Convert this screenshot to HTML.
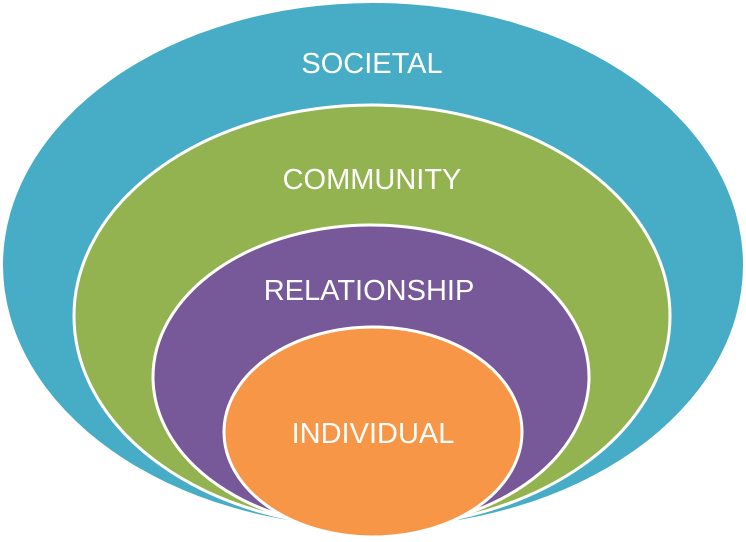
<!DOCTYPE html>
<html><head><style>body{margin:0;background:#fff}svg{display:block}text{font-family:"Liberation Sans",sans-serif;fill:#fff;font-size:29px;text-anchor:middle}</style></head>
<body><svg width="746" height="542" viewBox="0 0 746 542">
<ellipse cx="373" cy="265" rx="370" ry="262" fill="#47ADC7"/>
<ellipse cx="372" cy="316" rx="298" ry="211" fill="#93B351" stroke="#fff" stroke-width="3"/>
<ellipse cx="371" cy="377" rx="218" ry="152" fill="#775899" stroke="#fff" stroke-width="3"/>
<ellipse cx="373" cy="432" rx="149" ry="105" fill="#F79646" stroke="#fff" stroke-width="3"/>
<text x="372" y="73">SOCIETAL</text>
<text x="372" y="189">COMMUNITY</text>
<text x="369" y="300">RELATIONSHIP</text>
<text x="373" y="443">INDIVIDUAL</text>
</svg></body></html>
